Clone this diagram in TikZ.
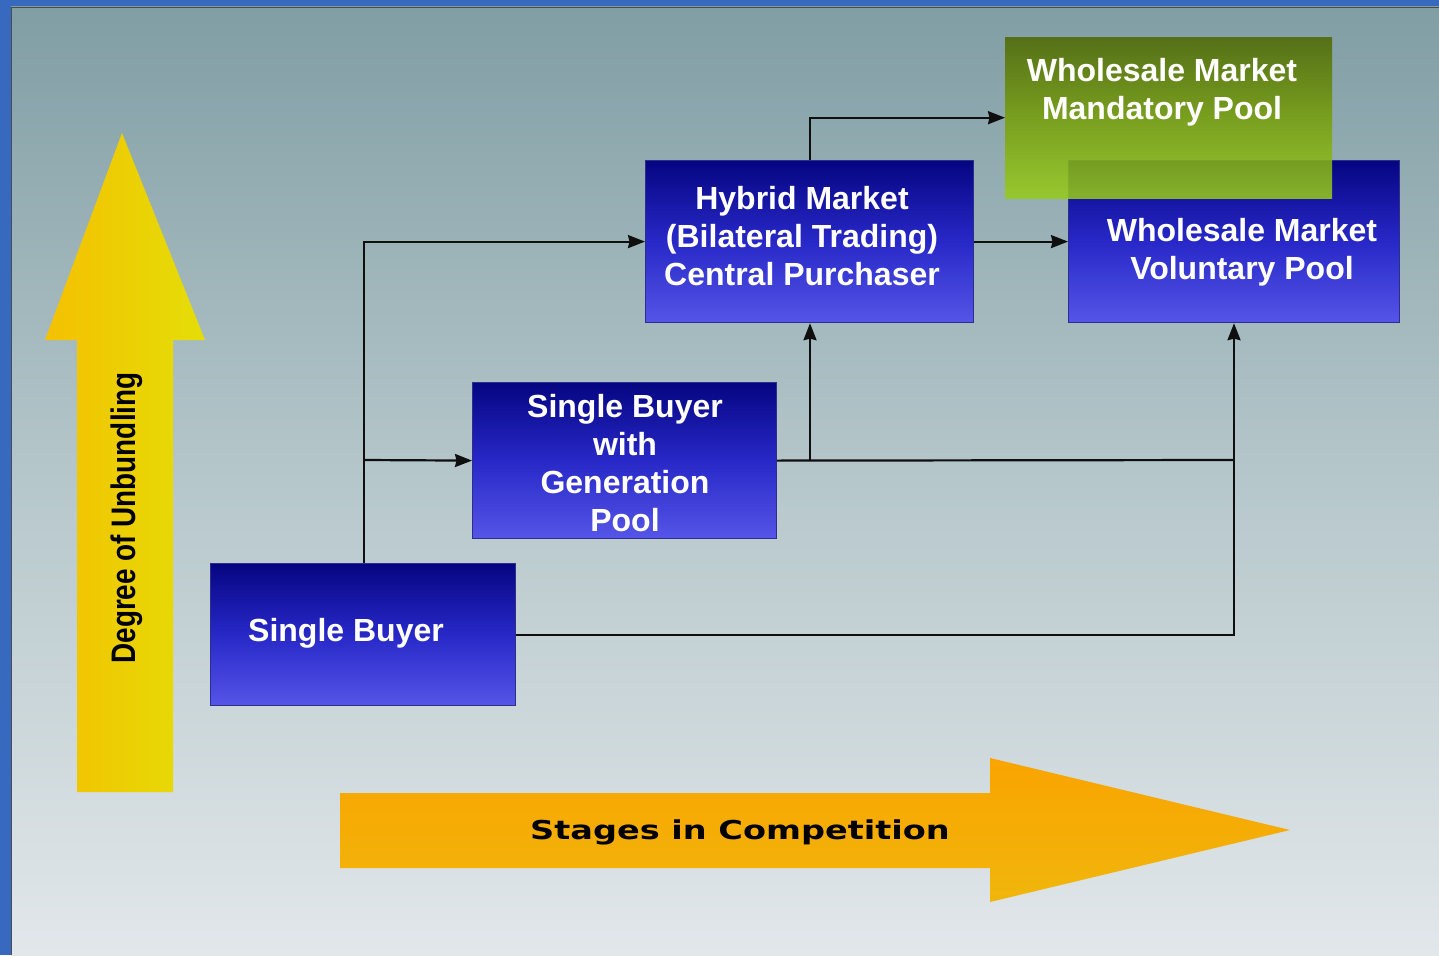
\documentclass[tikz,border=0pt]{standalone}
\usepackage{fontspec}
\setmainfont{Liberation Sans}
\newfontfamily\dejavu{DejaVu Sans}
\usetikzlibrary{arrows.meta,calc}
\definecolor{frame}{RGB}{55,106,190}
\definecolor{bgtop}{RGB}{128,158,164}
\definecolor{bgmid}{RGB}{182,199,203}
\definecolor{bgbot}{RGB}{226,231,234}
\definecolor{bluetop}{RGB}{5,5,130}
\definecolor{bluemid}{RGB}{40,40,200}
\definecolor{bluebot}{RGB}{85,85,232}
\definecolor{boxedge}{RGB}{45,45,140}
\definecolor{greentop}{RGB}{78,104,0}
\definecolor{greenmid}{RGB}{118,158,8}
\definecolor{greenbot}{RGB}{152,204,26}
\definecolor{yelL}{RGB}{244,192,0}
\definecolor{yelR}{RGB}{228,222,8}
\definecolor{orT}{RGB}{250,164,0}
\definecolor{orB}{RGB}{240,182,12}
\definecolor{linecol}{RGB}{15,15,15}
\tikzset{
  box/.style={draw=boxedge, line width=1.2pt, top color=bluetop, bottom color=bluebot, middle color=bluemid, inner sep=0pt, anchor=north west},
  gbox/.style={draw=none, top color=greentop, bottom color=greenbot, middle color=greenmid, fill opacity=0.86, inner sep=0pt, anchor=north west},
  btext/.style={text=white, font=\fontsize{32}{38}\selectfont\bfseries, align=center, inner sep=0pt},
  conn/.style={draw=linecol, line width=2.2pt, -{Stealth[length=17pt,width=13pt,inset=1.5pt]}},
  plainline/.style={draw=linecol, line width=2.2pt},
}
\begin{document}
\begin{tikzpicture}[x=1pt,y=-1pt]
\useasboundingbox (0,0) rectangle (1439,955);
% frame and background
\fill[frame] (0,0) rectangle (1439,955);
\shade[top color=bgtop, bottom color=bgbot, middle color=bgmid] (11,7) rectangle (1439,955);
\draw[black!70, line width=1.5pt] (11.5,955) -- (11.5,7.5) -- (1439,7.5);
% vertical yellow arrow
\shade[left color=yelL, right color=yelR] (77,792) -- (77,340) -- (45,340) -- (122,133) -- (205,340) -- (173,340) -- (173,792) -- cycle;
\node[rotate=90, inner sep=0pt, font=\fontsize{34}{40}\selectfont\bfseries] (dou) at (127,518) {\scalebox{0.82}[1]{Degree of Unbundling}};
% horizontal orange arrow
\shade[top color=orT, bottom color=orB] (340,793) -- (990,793) -- (990,758) -- (1290,830) -- (990,902) -- (990,868) -- (340,868) -- cycle;
\node[anchor=base, inner sep=0pt, font=\dejavu\fontsize{26}{30}\selectfont\bfseries] (sic) at (740,839) {\scalebox{1.29}[1]{Stages in Competition}};
% boxes
\node[box, minimum width=305pt, minimum height=142pt] (sb) at (210,563) {};
\node[box, minimum width=304pt, minimum height=156pt] (sbgp) at (472,382) {};
\node[box, minimum width=328pt, minimum height=162pt] (hy) at (645,160) {};
\node[box, minimum width=331pt, minimum height=162pt] (vp) at (1068,160) {};
\node[gbox, minimum width=327pt, minimum height=161pt] (mp) at (1005,37) {};
% box texts
\node[btext, anchor=base west] (sbT) at (248,641) {Single Buyer};
\node[btext] (sbgpT) at (625,463) {Single Buyer\\with\\Generation\\Pool};
\node[btext] (hyT) at (802,236) {Hybrid Market\\(Bilateral Trading)\\Central Purchaser};
\node[btext] (vpT) at (1242,252) {Wholesale Market\\Voluntary Pool};
\node[btext] (mpT) at (1162,92) {Wholesale Market\\Mandatory Pool};
% connectors
\coordinate (j1) at (364,460);
\coordinate (j2) at (810,460);
\coordinate (j3) at (1234,460);
\draw[conn] (sb.north -| j1) |- (hy.west);
\draw[conn] (j1) -- (sbgp.west);
\draw[plainline] (sbgp.east) -- (j3);
\draw[conn] (j2) -- (j2 |- hy.south);
\draw[conn] (j3) -- (j3 |- vp.south);
\draw[plainline] (sb.east) -| (j3);
\draw[conn] (hy.north -| j2) |- (mp.west);
\draw[conn] (hy.east) -- (vp.west);
\end{tikzpicture}
\end{document}
